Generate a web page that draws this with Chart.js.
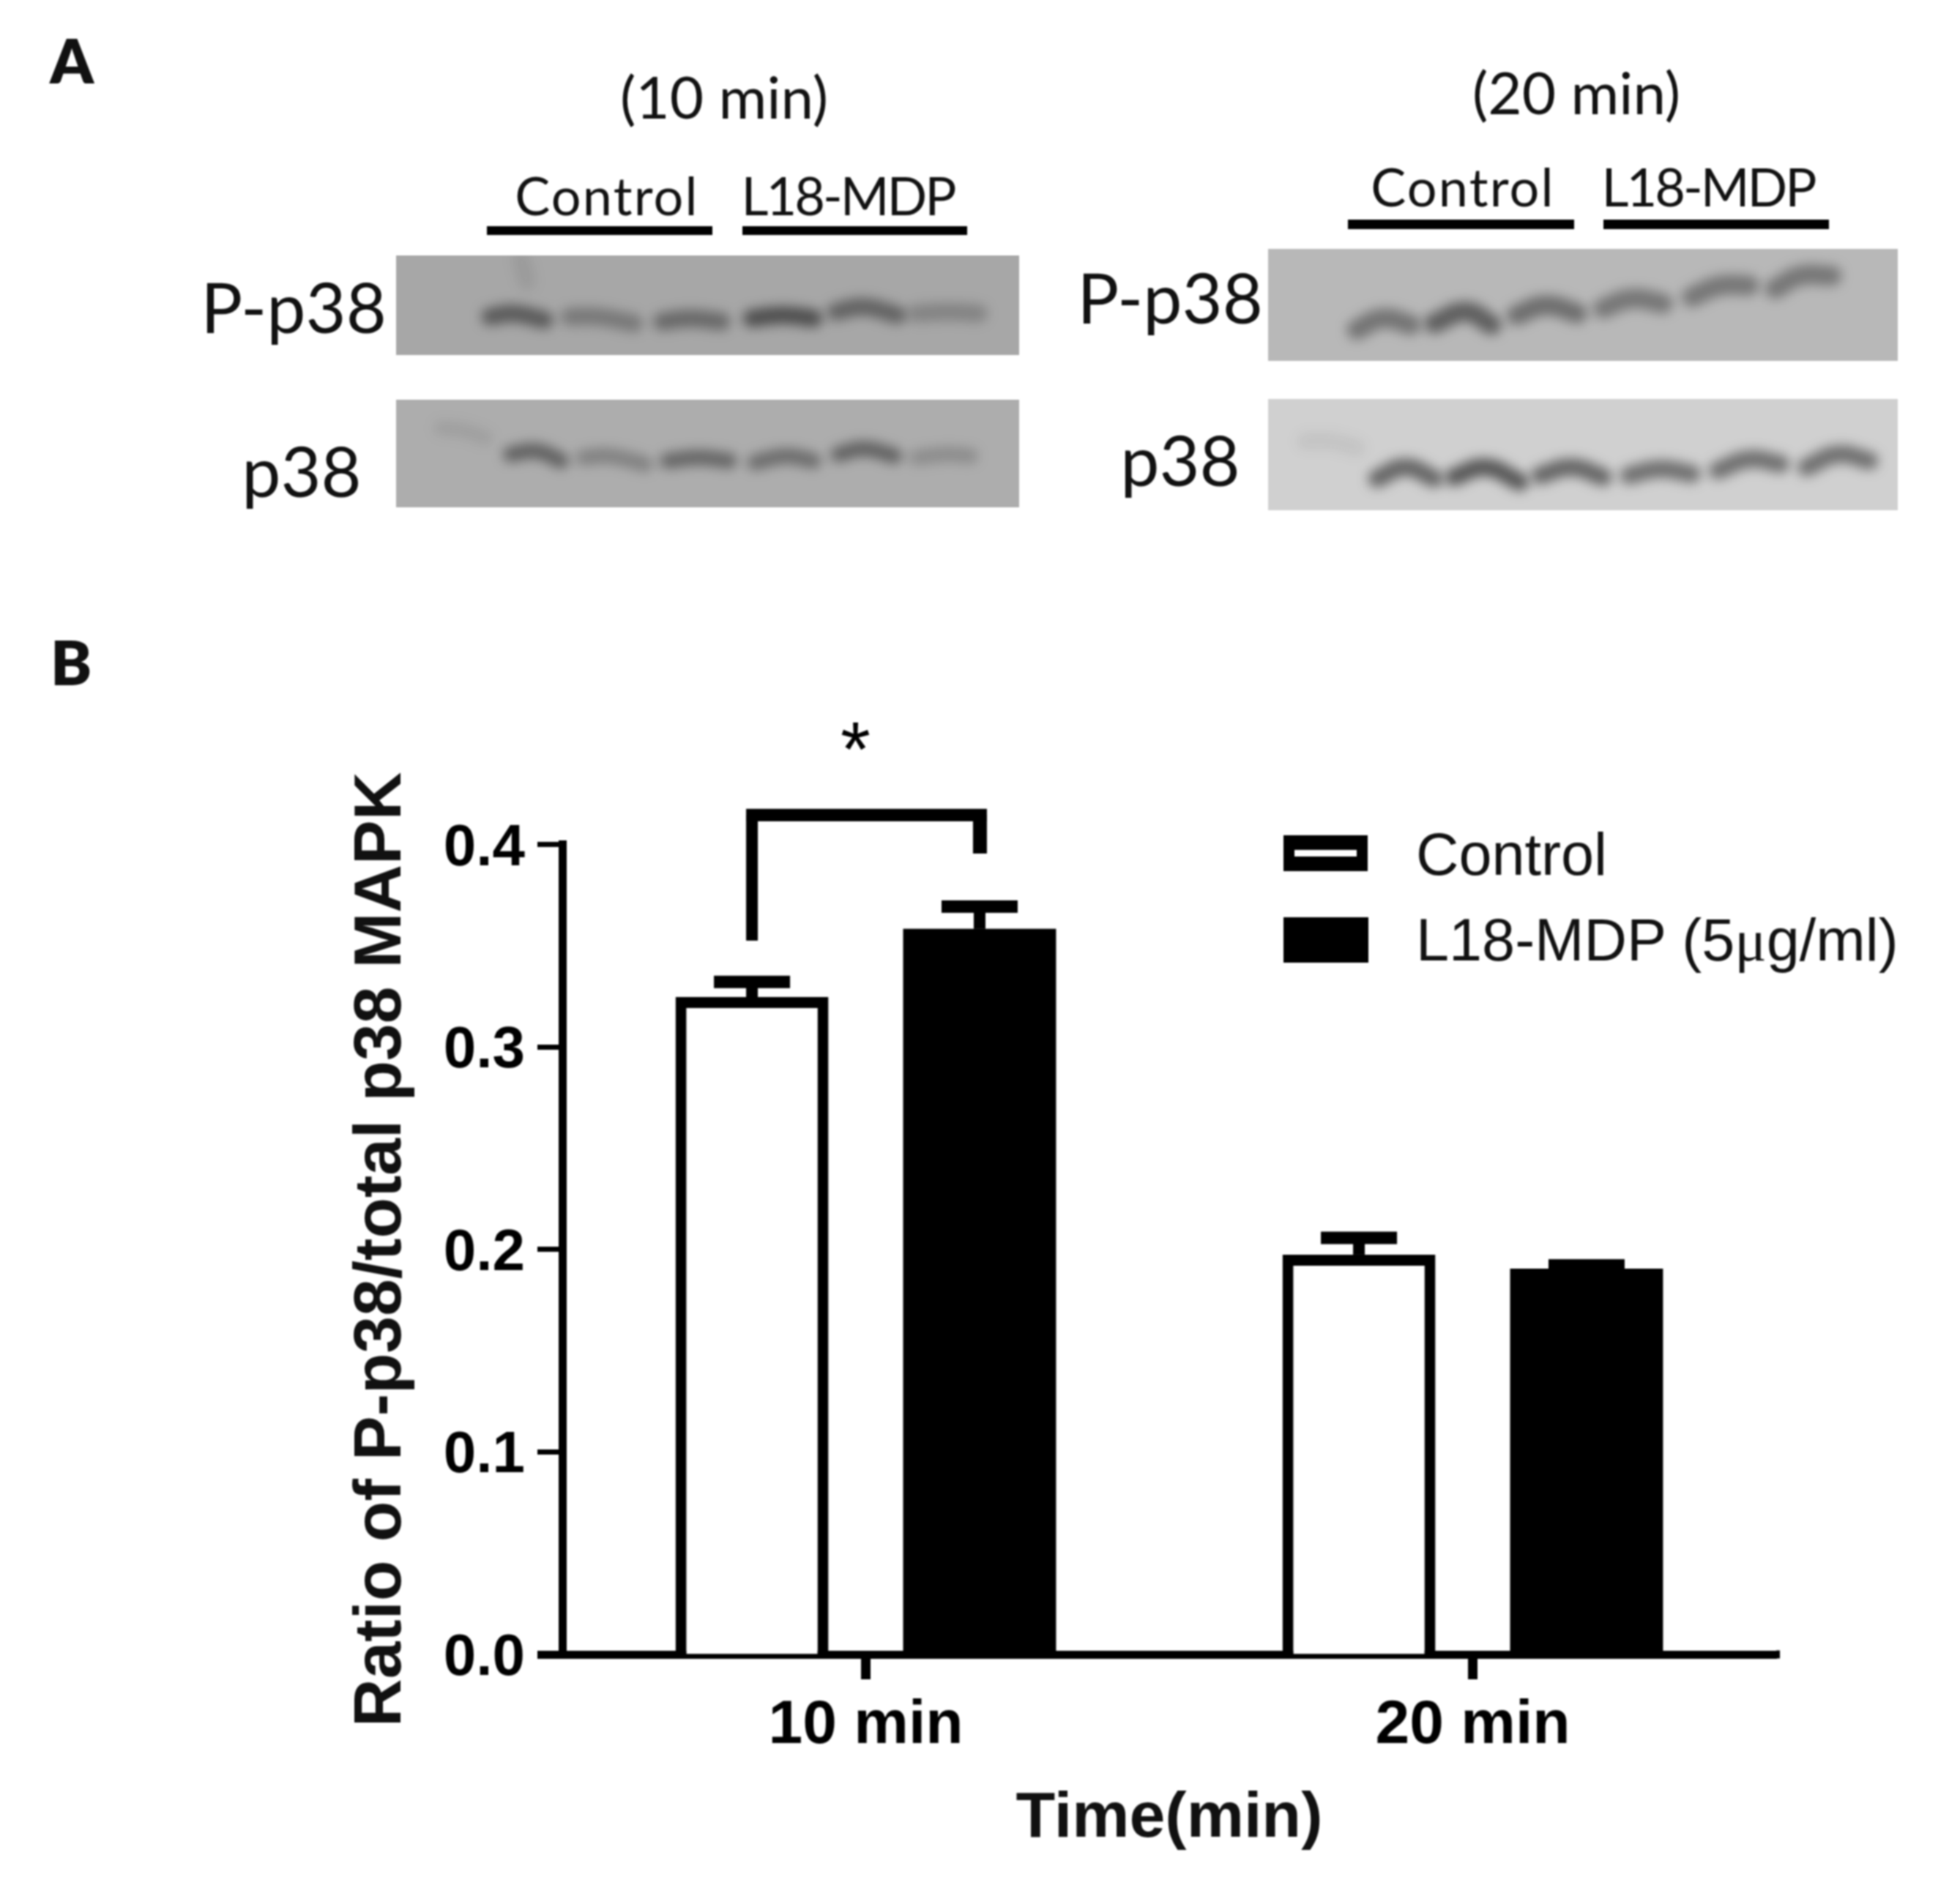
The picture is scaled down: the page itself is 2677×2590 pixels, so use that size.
<!DOCTYPE html>
<html>
<head>
<meta charset="utf-8">
<script src="https://cdn.jsdelivr.net/npm/chart.js@4"></script>
<style>
html, body { margin: 0; background: #fff; }
#page { position: relative; width: 2677px; height: 2590px; overflow: hidden; background: #fff; filter: blur(0.8px); }
#page canvas { position: absolute; display: block; }
.cal { position: absolute; font-family: Lato, sans-serif; color: #111; white-space: nowrap; line-height: 1; transform: translateX(-50%); }
.bar { position: absolute; background: #000; }
.leg { position: absolute; font-family: "Liberation Sans", Arial, sans-serif; font-size: 81px; line-height: 1; color: #111; white-space: nowrap; }
.leg span { font-family: "Liberation Serif", serif; }
.swatch { position: absolute; box-sizing: border-box; border-style: solid; border-color: #000; }
</style>
</head>
<body>
<div id="page">
  <canvas id="mainChart" width="2677" height="2590" style="left:0;top:0"></canvas>
  <canvas id="blot10Top" width="851" height="136" style="left:541px;top:349px;background:#a7a7a7"></canvas>
  <canvas id="blot10Bottom" width="851" height="147" style="left:541px;top:546px;background:#adadad"></canvas>
  <canvas id="blot20Top" width="860" height="153" style="left:1732px;top:340px;background:#b8b8b8"></canvas>
  <canvas id="blot20Bottom" width="860" height="152" style="left:1732px;top:545px;background:#d0d0d0"></canvas>
</div>
<script>
// ======================
// BAR CHART DATA
// ======================
const timeLabels = ["10 min", "20 min"];
const seriesNames = ["Control", "L18-MDP (5μg/ml)"];
const controlValues = [0.3246, 0.1974];
const mdpValues = [0.3583, 0.1905];
const controlErrors = [0.0075, 0.0083];
const mdpErrors = [0.0110, 0.0016];
const yTicks = [0, 0.1, 0.2, 0.3, 0.4];
const yTitle = "Ratio of P-p38/total p38 MAPK";
const xTitle = "Time(min)";

// bracket over the 10 min bars: left foot, right foot, top
const bracketLevels = [0.3525, 0.3955, 0.4145];
const starLevel = 0.4495;

// ======================
// WESTERN BLOT BANDS
// lane position and height are percent of the blot, dark is 0-1
// ======================
const blot10TopX = [[15.1,18.9,23.8],[27.9,32.4,38.2],[42.7,47.2,52.2],[57.1,62.1,67],[70.6,75.1,80.5],[83.6,88.6,93.5],[20,20.5,21]];
const blot10TopY = [[61.5,58.2,64.8],[61.5,61.5,68.1],[66.4,63.2,66.4],[63.2,59.9,63.2],[56.6,51.6,59.9],[58.2,56.6,58.2],[4,14,26]];
const blot10TopDark = [0.58, 0.36, 0.48, 0.68, 0.52, 0.28, 0.1];

const blot10BottomX = [[7.2,10.8,14.4],[18.4,22.5,26.5],[30.1,34.2,40],[43.6,48.6,53.5],[57.6,62.5,67],[71,75.1,80],[83.6,88.1,92.2]];
const blot10BottomY = [[26.4,28.6,35.6],[50.8,47.7,56.8],[53.8,52.3,59.9],[56.8,53.8,56.8],[58.4,52.3,56.8],[50.8,45.6,52.3],[53.8,50.8,52.3]];
const blot10BottomDark = [0.1, 0.56, 0.32, 0.52, 0.48, 0.55, 0.24];

const blot20TopX = [[14.1,18.2,22.7],[26.4,31.4,35.5],[39.5,44.1,49.1],[53.2,57.7,62.7],[67.3,71.8,76.4],[80.5,84.5,89.5]];
const blot20TopY = [[72.2,62,67.8],[66.4,56.1,67.8],[59.1,50.3,57.6],[53.2,44.4,48.8],[43,32.7,32.7],[35.7,24,24]];
const blot20TopDark = [0.46, 0.6, 0.5, 0.44, 0.44, 0.44];

const blot20BottomX = [[5.9,10,14.1],[17.3,21.8,26.4],[29.5,34.5,40],[43.2,48.2,53.2],[57.3,62.3,67.3],[71.4,76.4,81.4],[85.5,90.5,95.5]];
const blot20BottomY = [[38,38,43.9],[71.6,61.4,71.6],[70.2,61.4,74.6],[68.7,61.4,70.2],[68.7,62.9,67.3],[64.3,54.1,58.5],[61.4,49.7,55.6]];
const blot20BottomDark = [0.07, 0.62, 0.7, 0.62, 0.56, 0.56, 0.56];

// ======================
// PANEL A TEXT
// text, centre x, top, size, weight, letter spacing
// ======================
const panelText = [
    ["A", 98, 40, 84, 800, 0],
    ["B", 97, 862, 84, 800, 0],
    ["(10 min)", 989, 91, 80, 400, 0],
    ["(20 min)", 2153, 85, 80, 400, 0],
    ["Control", 829, 230, 72, 400, 2.2],
    ["L18-MDP", 1158, 230, 72, 400, -3],
    ["Control", 1998, 218, 72, 400, 2.2],
    ["L18-MDP", 2333, 218, 72, 400, -3],
    ["P-p38", 401, 371, 95, 400, 0],
    ["p38", 412, 595, 95, 400, 0],
    ["P-p38", 1598, 358, 95, 400, 0],
    ["p38", 1612, 580, 95, 400, 0]
];
const labelBars = [[665,309,308,12],[1014,309,307,12],[1841,300,309,13],[2190,300,308,13]];

const page = document.getElementById("page");

panelText.forEach(([text, x, y, size, weight, spacing]) => {
    const el = document.createElement("div");
    el.className = "cal";
    el.innerText = text;
    el.style.left = x + "px";
    el.style.top = y + "px";
    el.style.fontSize = size + "px";
    el.style.fontWeight = weight;
    el.style.letterSpacing = spacing + "px";
    page.appendChild(el);
});

labelBars.forEach(([x, y, w, h]) => {
    const el = document.createElement("div");
    el.className = "bar";
    el.style.cssText = `left:${x}px;top:${y}px;width:${w}px;height:${h}px`;
    page.appendChild(el);
});

// ======================
// LEGEND
// ======================
function addLegendRow(name, top, height, borderY, borderX, textTop) {
    const box = document.createElement("div");
    box.className = "swatch";
    box.style.cssText = `left:1753px;top:${top}px;width:115px;height:${height}px;` +
        `border-width:${borderY}px ${borderX}px;background:#fff`;
    page.appendChild(box);

    const label = document.createElement("div");
    label.className = "leg";
    label.style.left = "1934px";
    label.style.top = textTop + "px";
    label.innerHTML = name.replace("μ", "<span>μ</span>");
    page.appendChild(label);
}
addLegendRow(seriesNames[0], 1141, 49, 20, 15, 1127);
addLegendRow(seriesNames[1], 1253, 61, 31, 58, 1244);

// ======================
// BLOT CHARTS
// ======================
const blurPlugin = {
    id: "blur",
    beforeDatasetsDraw(chart) {
        chart.ctx.save();
        chart.ctx.filter = "blur(8px)";
    },
    afterDatasetsDraw(chart) {
        chart.ctx.restore();
    }
};

function drawBlot(id, xs, ys, dark, thick) {
    new Chart(document.getElementById(id), {
        type: "scatter",
        data: {
            datasets: xs.map((band, i) => ({
                data: band.map((x, j) => ({ x: x, y: ys[i][j] })),
                showLine: true,
                tension: 0.45,
                borderWidth: thick,
                borderCapStyle: "round",
                borderColor: `rgba(35,35,35,${dark[i]})`,
                pointRadius: 0
            }))
        },
        options: {
            responsive: false,
            animation: false,
            layout: { padding: 0 },
            plugins: { legend: { display: false }, tooltip: { enabled: false } },
            scales: {
                x: { display: false, min: 0, max: 100 },
                y: { display: false, min: 0, max: 100, reverse: true }
            }
        },
        plugins: [blurPlugin]
    });
}

drawBlot("blot10Top", blot10TopX, blot10TopY, blot10TopDark, 24);
drawBlot("blot10Bottom", blot10BottomX, blot10BottomY, blot10BottomDark, 21);
drawBlot("blot20Top", blot20TopX, blot20TopY, blot20TopDark, 27);
drawBlot("blot20Bottom", blot20BottomX, blot20BottomY, blot20BottomDark, 24);

// ======================
// ERROR BARS, BRACKET, STAR
// ======================
const annotationPlugin = {
    id: "annotations",
    afterDatasetsDraw(chart) {
        const ctx = chart.ctx;
        const xScale = chart.scales.x;
        const yScale = chart.scales.y;
        const errors = [controlErrors, mdpErrors];

        ctx.save();
        ctx.fillStyle = "#000";

        // error bars, upper arm only
        chart.data.datasets.forEach((ds, d) => {
            chart.getDatasetMeta(d).data.forEach((bar, i) => {
                const top = yScale.getPixelForValue(ds.data[i]);
                const cap = yScale.getPixelForValue(ds.data[i] + errors[d][i]);
                ctx.fillRect(bar.x - 8, cap, 16, top - cap);
                ctx.fillRect(bar.x - 52, cap - 8.5, 104, 17);
            });
        });

        // bracket between the two 10 min bars
        const left = chart.getDatasetMeta(0).data[0].x;
        const right = chart.getDatasetMeta(1).data[0].x;
        const leftFoot = yScale.getPixelForValue(bracketLevels[0]);
        const rightFoot = yScale.getPixelForValue(bracketLevels[1]);
        const top = yScale.getPixelForValue(bracketLevels[2]);
        ctx.fillRect(left - 8, top - 8.5, right - left + 18, 17);
        ctx.fillRect(left - 8, top, 16, leftFoot - top);
        ctx.fillRect(right - 9, top, 19, rightFoot - top);

        ctx.font = "105px 'Liberation Sans', Arial, sans-serif";
        ctx.textAlign = "center";
        ctx.textBaseline = "middle";
        ctx.fillText("*", (left + right) / 2 - 14, yScale.getPixelForValue(starLevel) + 14);

        // x axis runs a little past the last category
        ctx.fillRect(xScale.right, yScale.bottom - 5.5, 5, 11);
        ctx.restore();
    }
};

// ======================
// MAIN CHART
// ======================
const axisFont = "'Liberation Sans', Arial, sans-serif";

new Chart(document.getElementById("mainChart"), {
    type: "bar",
    data: {
        labels: timeLabels,
        datasets: [
            {
                label: seriesNames[0],
                data: controlValues,
                backgroundColor: "#fff",
                borderColor: "#000",
                borderWidth: 15,
                borderSkipped: "start"
            },
            {
                label: seriesNames[1],
                data: mdpValues,
                backgroundColor: "#000",
                borderWidth: 0
            }
        ]
    },
    options: {
        responsive: false,
        animation: false,
        categoryPercentage: 0.75,
        barPercentage: 0.672,
        layout: { padding: { top: 1153.5, right: 251 } },
        plugins: { legend: { display: false }, tooltip: { enabled: false } },
        scales: {
            x: {
                afterFit(scale) { scale.height = 330; },
                border: { color: "#000", width: 11 },
                grid: { offset: false, drawOnChartArea: false, color: "#000", tickLength: 34, tickWidth: 13 },
                ticks: {
                    color: "#000",
                    padding: 13,
                    maxRotation: 0,
                    font: { family: axisFont, size: 84, weight: "bold" }
                },
                title: {
                    display: true,
                    text: xTitle,
                    color: "#111",
                    padding: { top: 0, bottom: 61 },
                    font: { family: axisFont, size: 88, weight: "bold", lineHeight: 1 }
                }
            },
            y: {
                min: 0,
                max: 0.4,
                afterFit(scale) { scale.width = 768; },
                afterBuildTicks(scale) { scale.ticks = yTicks.map(v => ({ value: v })); },
                border: { color: "#000", width: 11 },
                grid: {
                    drawOnChartArea: false,
                    color: "#000",
                    tickLength: 34,
                    tickWidth: ctx => (ctx.tick && ctx.tick.value === 0 ? 11 : 7)
                },
                ticks: {
                    color: "#000",
                    padding: 17,
                    labelOffset: 6,
                    callback: v => v.toFixed(1),
                    font: { family: axisFont, size: 80, weight: "bold" }
                },
                title: {
                    display: true,
                    text: yTitle,
                    color: "#111",
                    padding: { top: 476, bottom: 0 },
                    font: { family: axisFont, size: 91, weight: "bold", lineHeight: 1 }
                }
            }
        }
    },
    plugins: [annotationPlugin]
});
</script>
</body>
</html>
